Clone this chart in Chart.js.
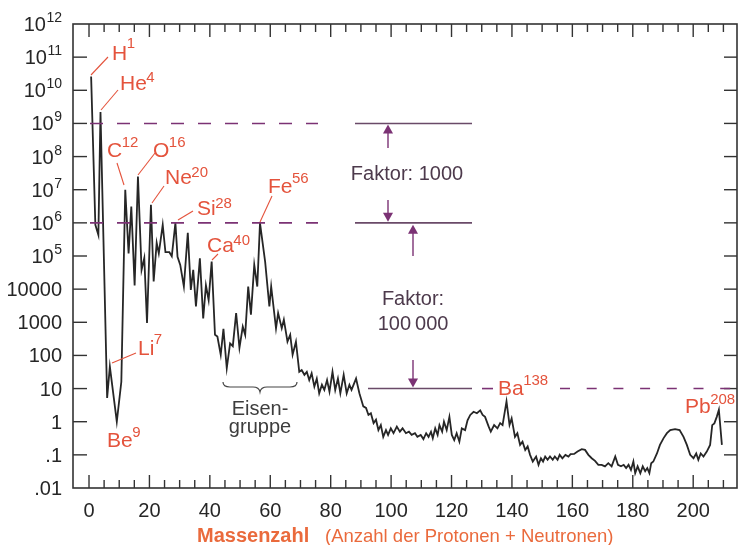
<!DOCTYPE html>
<html>
<head>
<meta charset="utf-8">
<script src="https://cdn.jsdelivr.net/npm/chart.js@4.4.1/dist/chart.umd.min.js"></script>
<style>
  html, body { margin: 0; padding: 0; background: #fff; }
  #wrap { width: 738px; height: 545px; }
</style>
</head>
<body>
<div id="wrap"><canvas id="abundanceChart" width="738" height="545"></canvas></div>
<script>
// mass number (x) and relative abundance (Si = 10^6)
const massNumber = [
  0.7, 2.1, 3.1, 3.8, 6.0, 6.9, 9.2, 10.7, 12.0, 13.1, 14.0, 15.1, 16.2, 17.4, 18.3, 19.2,
  20.5, 21.4, 22.4, 23.1, 24.4, 25.3, 26.6, 27.4, 28.6, 29.3, 30.2, 31.4, 32.7, 33.7, 34.5, 35.4,
  36.7, 37.8, 38.7, 39.6, 40.6, 41.7, 42.5, 43.6, 44.5, 45.6, 46.7, 47.6, 48.7, 49.8, 50.9, 51.7,
  52.7, 53.6, 54.7, 55.7, 56.6, 58.3, 59.7, 60.3, 61.9, 62.6, 63.8, 64.5, 65.7, 66.6, 67.4, 68.5,
  69.6, 70.4, 71.3, 72.1, 72.9, 73.7, 74.6, 75.4, 76.2, 77.1, 77.9, 78.8, 79.6, 80.6, 81.5, 82.4,
  83.2, 84.3, 85.3, 86.2, 86.9, 88.4, 89.5, 90.8, 91.7, 92.5, 93.3, 94.2, 95.0, 95.8, 96.6, 97.4,
  98.3, 99.0, 99.9, 100.8, 101.9, 102.9, 103.8, 104.9, 105.9, 106.8, 107.9, 108.7, 109.8, 110.7, 111.6, 112.4,
  113.2, 113.8, 114.6, 115.4, 116.0, 116.9, 117.5, 118.4, 119.3, 120.1, 120.9, 121.7, 122.6, 123.4, 124.5, 125.3,
  126.2, 127.3, 128.4, 129.5, 130.3, 131.1, 132.3, 133.0, 134.1, 135.2, 136.1, 136.9, 138.2, 139.2, 139.9, 141.0,
  141.8, 142.7, 143.5, 144.4, 145.2, 146.0, 146.9, 148.0, 148.8, 149.6, 150.3, 151.0, 151.8, 152.6, 153.5, 154.2,
  155.1, 155.8, 156.7, 157.7, 158.7, 159.4, 160.6, 161.7, 163.1, 164.2, 165.3, 166.4, 167.5, 168.6, 169.7, 170.8,
  171.9, 173.0, 174.2, 175.1, 176.1, 177.0, 177.8, 178.6, 179.4, 180.2, 180.8, 181.6, 182.5, 183.3, 184.1, 184.8,
  185.5, 186.1, 186.8, 188.0, 189.0, 190.2, 191.3, 192.4, 194.0, 195.5, 196.8, 197.9, 199.0, 200.1, 201.0, 201.7,
  202.5, 203.4, 204.5, 205.6, 206.3, 207.0, 207.8, 208.5, 209.5
];
const abundance = [
  2.6e10, 8.7e5, 4.3e5, 2.2e9, 5.2, 46, 1.0, 16, 1.0e7, 1.2e5, 3.1e6, 1.3e4, 2.5e7, 3.8e4, 8.7e4, 950,
  3.5e6, 1.7e4, 2.5e5, 1.2e5, 8.7e5, 1.3e5, 1.3e5, 9.8e4, 1.0e6, 9.5e4, 5.4e4, 1.2e4, 5.0e5, 9.5e3, 3.8e4, 3.0e3,
  8.5e4, 1.3e3, 1.3e4, 4.7e3, 6.8e4, 420, 370, 105, 630, 41, 230, 190, 1.9e3, 170, 740, 420,
  1.2e4, 1.7e3, 5.4e4, 1.2e4, 9.8e5, 6.8e4, 3.0e3, 1.2e4, 660, 1.9e3, 660, 1.2e3, 260, 420, 105, 260,
  32, 36, 26, 32, 18, 29, 11.5, 20, 7.2, 13, 9.1, 18, 8.1, 32, 9.1, 20,
  7.2, 26, 7.2, 13, 9.1, 20, 7.2, 2.9, 2.6, 1.6, 1.8, 0.91, 1.15, 0.56, 0.79, 0.35,
  0.56, 0.4, 0.63, 0.45, 0.71, 0.5, 0.63, 0.45, 0.5, 0.4, 0.45, 0.35, 0.4, 0.3, 0.45, 0.35,
  0.5, 0.32, 0.63, 0.4, 0.79, 0.5, 1.0, 0.56, 1.4, 0.4, 0.28, 0.45, 0.25, 0.63, 0.56, 1.1,
  1.6, 2.0, 1.8, 2.2, 1.6, 1.4, 0.71, 0.5, 0.79, 0.63, 0.91, 0.79, 4.1, 0.8, 1.26, 0.35,
  0.45, 0.2, 0.25, 0.14, 0.18, 0.1, 0.063, 0.089, 0.05, 0.079, 0.063, 0.089, 0.071, 0.089, 0.071, 0.089,
  0.071, 0.1, 0.079, 0.1, 0.089, 0.105, 0.107, 0.126, 0.148, 0.141, 0.1, 0.079, 0.066, 0.05, 0.05, 0.045,
  0.056, 0.045, 0.089, 0.05, 0.045, 0.05, 0.04, 0.05, 0.035, 0.063, 0.028, 0.045, 0.028, 0.045, 0.032, 0.04,
  0.028, 0.056, 0.063, 0.11, 0.2, 0.32, 0.45, 0.56, 0.6, 0.56, 0.35, 0.2, 0.1, 0.079, 0.11, 0.071,
  0.11, 0.089, 0.126, 0.2, 0.79, 0.89, 1.4, 2.3, 0.2
];

// axis ticks
const xTickLabels = [0, 20, 40, 60, 80, 100, 120, 140, 160, 180, 200];
const yTickValues = [1e12, 1e11, 1e10, 1e9, 1e8, 1e7, 1e6, 1e5, 1e4, 1e3, 100, 10, 1, 0.1, 0.01];
const yTickBase = ['10', '10', '10', '10', '10', '10', '10', '10', '10000', '1000', '100', '10', '1', '.1', '.01'];
const yTickSup = ['12', '11', '10', '9', '8', '7', '6', '5', '', '', '', '', '', '', ''];

// labelled nuclides
const elementNames = ['H', 'He', 'C', 'O', 'Ne', 'Si', 'Ca', 'Fe', 'Li', 'Be', 'Ba', 'Pb'];
const elementMass = ['1', '4', '12', '16', '20', '28', '40', '56', '7', '9', '138', '208'];

// reference levels and factors
const levelHigh = 1e9;
const levelMid = 1e6;
const levelLow = 10;
const factorUpper = 'Faktor: 1000';
const factorLower = ['Faktor:', '100\u2009000'];

// layout of the annotations (pixels): [left, baseline, raise of superscript]
const labelPos = [
  [112, 60, 12], [120, 90, 8], [107, 157, 10], [153, 157, 10], [165, 184, 7], [197, 215, 7],
  [207, 252, 7], [268, 193, 10], [138, 355, 11], [107, 447, 10], [498, 395, 10], [685, 413, 9]
];
const leaders = [
  [91, 75, 108, 57], [101, 110, 118, 90], [124, 185, 117, 163], [138, 175, 155, 153],
  [152, 203, 164, 186], [178, 220, 193, 211], [212, 260, 218, 254], [260, 222, 272, 196],
  [112, 363, 136, 353]
];

const FONT = "'Liberation Sans', Arial, Helvetica, sans-serif";
const RED = '#e4533c';
const PURPLE = '#7b3274';
const PURPLE_LINE = '#6a4a68';

function supText(ctx, base, sup, x, y, raise, baseSize, supSize, align, gap) {
  ctx.font = baseSize + 'px ' + FONT;
  const wb = ctx.measureText(base).width;
  ctx.font = supSize + 'px ' + FONT;
  const ws = sup ? ctx.measureText(sup).width + gap : 0;
  let left = x;
  if (align === 'right') left = x - wb - ws;
  if (align === 'center') left = x - (wb + ws) / 2;
  ctx.textAlign = 'left';
  ctx.textBaseline = 'alphabetic';
  ctx.font = baseSize + 'px ' + FONT;
  ctx.fillText(base, left, y);
  if (sup) {
    ctx.font = supSize + 'px ' + FONT;
    ctx.fillText(sup, left + wb + gap, y - raise);
  }
}

function line(ctx, x1, y1, x2, y2) {
  ctx.beginPath();
  ctx.moveTo(x1, y1);
  ctx.lineTo(x2, y2);
  ctx.stroke();
}

function arrow(ctx, x, tail, tip) {
  const dir = tip > tail ? 1 : -1;
  ctx.beginPath();
  ctx.moveTo(x, tail);
  ctx.lineTo(x, tip - dir * 8);
  ctx.stroke();
  ctx.beginPath();
  ctx.moveTo(x, tip);
  ctx.lineTo(x - 5, tip - dir * 9);
  ctx.lineTo(x + 5, tip - dir * 9);
  ctx.closePath();
  ctx.fill();
}

const decorPlugin = {
  id: 'decor',
  afterDraw(chart) {
    const ctx = chart.ctx;
    const xs = chart.scales.x;
    const ys = chart.scales.y;
    const a = chart.chartArea;
    ctx.save();

    // frame
    ctx.strokeStyle = '#333';
    ctx.lineWidth = 1.6;
    ctx.strokeRect(a.left, a.top, a.right - a.left, a.bottom - a.top);

    // x ticks on bottom and top, pointing inward
    ctx.lineWidth = 1.4;
    for (let m = 0; m <= 210; m += 5) {
      const px = xs.getPixelForValue(m);
      const len = m % 20 === 0 ? 13 : 8;
      line(ctx, px, a.bottom, px, a.bottom - len);
      line(ctx, px, a.top, px, a.top + len);
    }
    // y ticks on left and right
    yTickValues.forEach(v => {
      if (v === 1e12 || v === 0.01) return;
      const py = ys.getPixelForValue(v);
      line(ctx, a.left, py, a.left + 14, py);
      line(ctx, a.right, py, a.right - 13, py);
    });

    // tick labels
    ctx.fillStyle = '#262626';
    yTickValues.forEach((v, i) => {
      const py = ys.getPixelForValue(v);
      supText(ctx, yTickBase[i], yTickSup[i], 62, py + 7, 9, 20, 14, 'right', 0.5);
    });
    ctx.font = '20px ' + FONT;
    ctx.textAlign = 'center';
    ctx.textBaseline = 'alphabetic';
    xTickLabels.forEach(v => {
      ctx.fillText(String(v), xs.getPixelForValue(v), 517);
    });

    // x title
    ctx.fillStyle = '#ea6a3c';
    ctx.textAlign = 'left';
    ctx.font = 'bold 20px ' + FONT;
    ctx.fillText('Massenzahl', 197, 542);
    ctx.font = '18.5px ' + FONT;
    ctx.fillText('(Anzahl der Protonen + Neutronen)', 325, 542);

    // reference lines
    const yHigh = ys.getPixelForValue(levelHigh);
    const yMid = ys.getPixelForValue(levelMid);
    const yLow = ys.getPixelForValue(levelLow);
    ctx.lineWidth = 1.6;
    ctx.strokeStyle = PURPLE;
    ctx.setLineDash([13, 14]);
    line(ctx, 90, yHigh, 318, yHigh);
    line(ctx, 90, yMid, 318, yMid);
    ctx.setLineDash([10, 16.7]);
    line(ctx, 560, yLow, 737, yLow);
    ctx.setLineDash([]);
    line(ctx, 482, yLow, 493, yLow);
    ctx.strokeStyle = PURPLE_LINE;
    line(ctx, 355, yHigh, 472, yHigh);
    line(ctx, 355, yMid, 472, yMid);
    line(ctx, 368, yLow, 472, yLow);

    // arrows
    ctx.strokeStyle = PURPLE;
    ctx.fillStyle = PURPLE;
    ctx.lineWidth = 1.4;
    arrow(ctx, 388, 148, yHigh + 1);
    arrow(ctx, 388, 200, yMid - 1);
    arrow(ctx, 413, 256, yMid + 2);
    arrow(ctx, 413, 360, yLow - 1);

    // factor texts
    ctx.fillStyle = '#4d3a4c';
    ctx.font = '20px ' + FONT;
    ctx.textAlign = 'center';
    ctx.fillText(factorUpper, 407, 180);
    ctx.fillText(factorLower[0], 413, 305);
    ctx.fillText(factorLower[1], 413, 330);

    // iron group brace
    ctx.strokeStyle = '#444';
    ctx.lineWidth = 1.2;
    ctx.beginPath();
    ctx.moveTo(223, 382);
    ctx.quadraticCurveTo(223, 387, 230, 387);
    ctx.lineTo(253, 387);
    ctx.quadraticCurveTo(259, 387, 260, 392);
    ctx.quadraticCurveTo(261, 387, 267, 387);
    ctx.lineTo(290, 387);
    ctx.quadraticCurveTo(297, 387, 297, 382);
    ctx.stroke();
    ctx.fillStyle = '#3d3d3d';
    ctx.font = '20px ' + FONT;
    ctx.fillText('Eisen-', 260, 415);
    ctx.fillText('gruppe', 260, 433);

    // element labels with leader lines
    ctx.strokeStyle = RED;
    ctx.lineWidth = 1.1;
    leaders.forEach(l => line(ctx, l[0], l[1], l[2], l[3]));
    ctx.fillStyle = RED;
    elementNames.forEach((name, i) => {
      const p = labelPos[i];
      supText(ctx, name, elementMass[i], p[0], p[1], p[2], 21, 15, 'left', -0.5);
    });

    ctx.restore();
  }
};

const ctx = document.getElementById('abundanceChart').getContext('2d');
new Chart(ctx, {
  type: 'line',
  data: {
    datasets: [{
      label: 'Häufigkeit',
      data: massNumber.map((m, i) => ({ x: m, y: abundance[i] })),
      borderColor: '#262626',
      borderWidth: 1.8,
      pointRadius: 0,
      tension: 0,
      fill: false
    }]
  },
  options: {
    responsive: false,
    animation: false,
    layout: { padding: { left: 73, top: 24, right: 1, bottom: 57 } },
    plugins: { legend: { display: false }, tooltip: { enabled: false } },
    scales: {
      x: { type: 'linear', min: -5.3, max: 214.5, display: false },
      y: { type: 'logarithmic', min: 0.01, max: 1e12, display: false }
    }
  },
  plugins: [decorPlugin]
});
</script>
</body>
</html>
